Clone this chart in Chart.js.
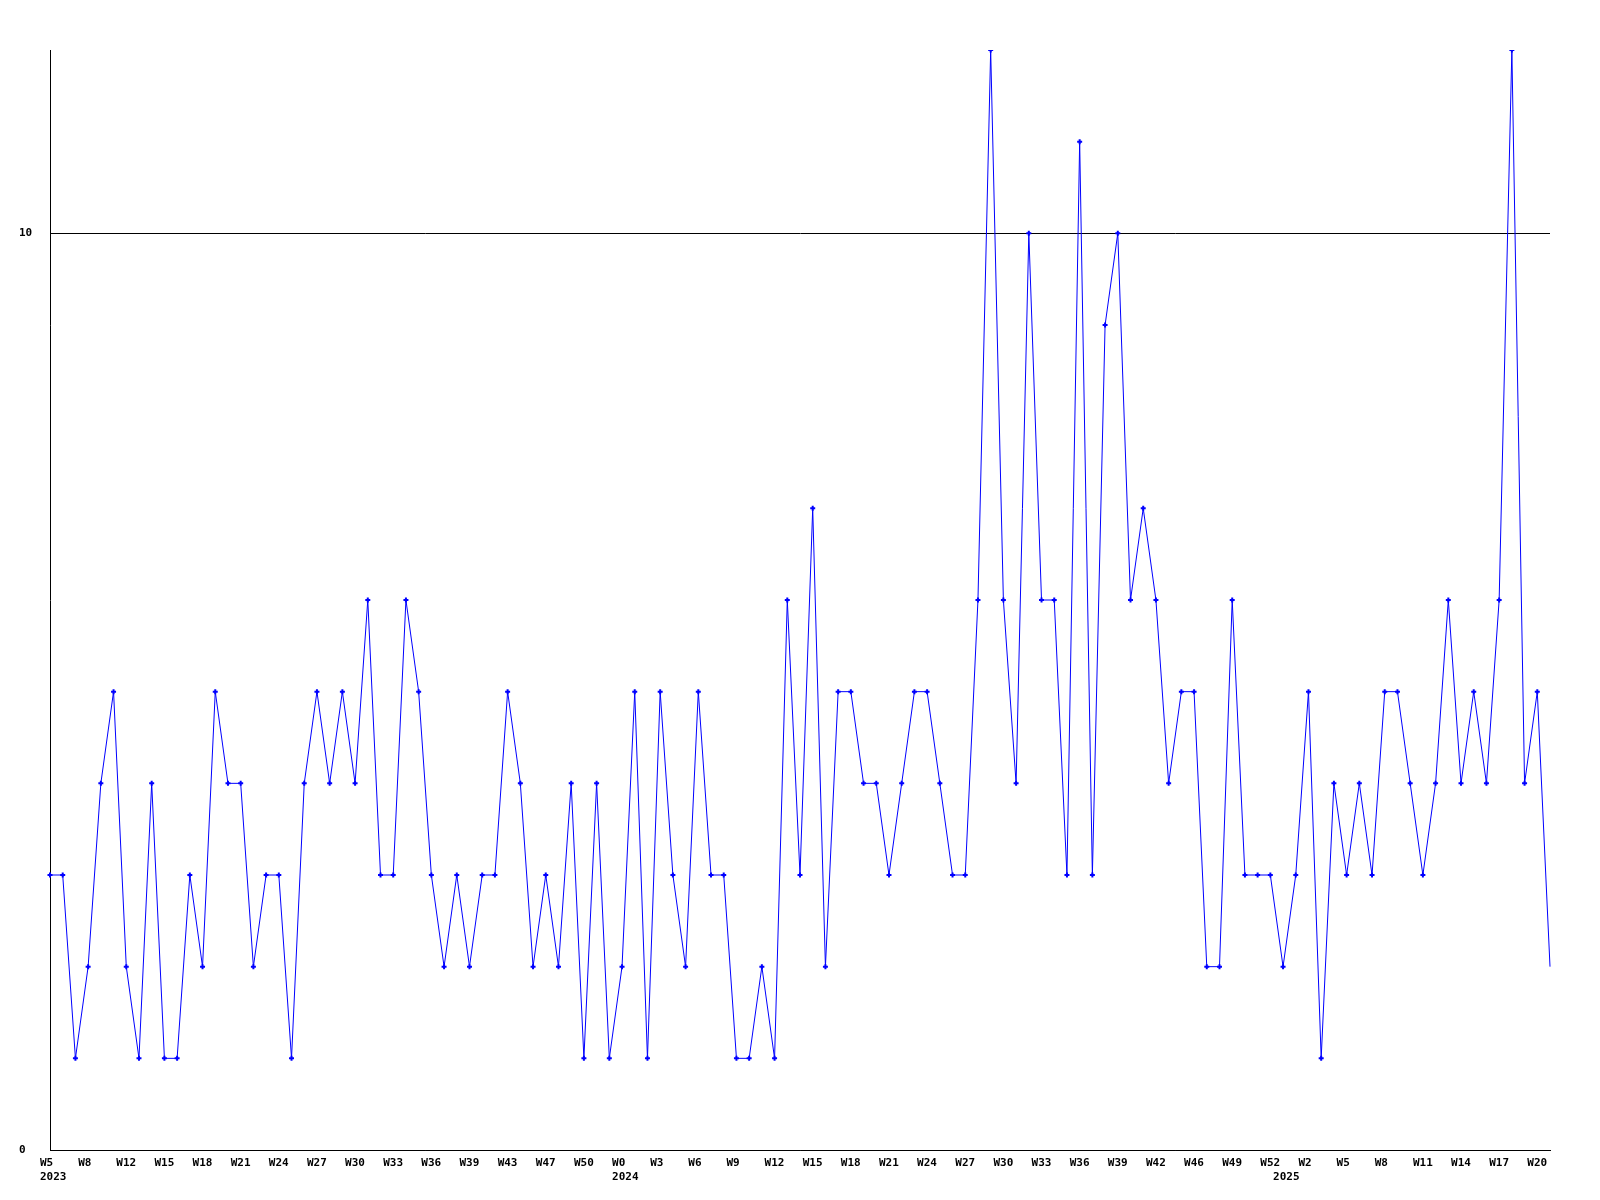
<!DOCTYPE html>
<html>
<head>
<meta charset="utf-8">
<style>
  html, body { margin: 0; padding: 0; background: #fff; }
  canvas { display: block; }
</style>
<script src="https://cdn.jsdelivr.net/npm/chart.js@4/dist/chart.umd.min.js"></script>
</head>
<body>
<canvas id="grafico" width="1600" height="1200"></canvas>
<script>
// Valores semanales (un punto por semana)
const valores = [
  3,3,1,2,4,5,2,1,4,1,
  1,3,2,5,4,4,2,3,3,1,
  4,5,4,5,4,6,3,3,6,5,
  3,2,3,2,3,3,5,4,2,3,
  2,4,1,4,1,2,5,1,5,3,
  2,5,3,3,1,1,2,1,6,3,
  7,2,5,5,4,4,3,4,5,5,
  4,3,3,6,12,6,4,10,6,6,
  3,11,3,9,10,6,7,6,4,5,
  5,2,2,6,3,3,3,2,3,5,
  1,4,3,4,3,5,5,4,3,4,
  6,4,5,4,6,12,4,5,2
];

// Etiquetas de semana, una cada 3 puntos
const semanas = [
  'W5','W8','W12','W15','W18','W21','W24','W27','W30','W33','W36','W39','W43','W47','W50',
  'W0','W3','W6','W9','W12','W15','W18','W21','W24','W27','W30','W33','W36','W39','W42','W46','W49','W52',
  'W2','W5','W8','W11','W14','W17','W20'
];
const pasoSemanas = 3;

// Años y el punto donde aparece cada uno
const anios = ['2023', '2024', '2025'];
const indiceAnios = [0, 45, 97];

// Marcas del eje Y
const marcasY = [0, 10];
const maxY = 12;

(function() {
    // Construimos las etiquetas del eje X (semana arriba, año debajo)
    const etiquetas = valores.map((v, i) => {
        const semana = (i % pasoSemanas === 0) ? (semanas[i / pasoSemanas] || '') : '';
        const k = indiceAnios.indexOf(i);
        return k >= 0 ? [semana, anios[k]] : semana;
    });

    const fuente = { family: "'DejaVu Sans Mono', monospace", size: 11, weight: 'bold', lineHeight: 1.3 };
    const ultimo = valores.length - 1;

    new Chart(document.getElementById('grafico'), {
        type: 'line',
        data: {
            labels: etiquetas,
            datasets: [{
                data: valores,
                borderColor: '#0000ff',
                backgroundColor: '#0000ff',
                borderWidth: 1,
                tension: 0,
                pointStyle: 'cross',
                pointRadius: ctx => ctx.dataIndex === ultimo ? 0 : 2.5,
                pointBorderWidth: 2,
                pointBorderColor: '#0000ff',
                pointHoverRadius: 0
            }]
        },
        options: {
            responsive: false,
            animation: false,
            layout: { padding: { left: 19, top: 50, right: 50, bottom: 0 } },
            plugins: { legend: { display: false }, tooltip: { enabled: false } },
            scales: {
                x: {
                    offset: false,
                    grid: { display: false, drawTicks: false },
                    border: { display: true, color: '#000', width: 1 },
                    afterFit: s => { s.height = 50; },
                    ticks: {
                        autoSkip: false,
                        maxRotation: 0,
                        minRotation: 0,
                        align: 'start',
                        labelOffset: -10,
                        padding: 6,
                        color: '#000',
                        font: fuente
                    }
                },
                y: {
                    min: 0,
                    max: maxY,
                    afterBuildTicks: s => { s.ticks = marcasY.map(v => ({ value: v })); },
                    afterFit: s => { s.width = 31; },
                    grid: { color: '#000', lineWidth: 1, drawTicks: false },
                    border: { display: true, color: '#000', width: 1 },
                    ticks: {
                        crossAlign: 'far',
                        padding: 0,
                        color: '#000',
                        font: fuente
                    }
                }
            }
        }
    });
})();
</script>
</body>
</html>
